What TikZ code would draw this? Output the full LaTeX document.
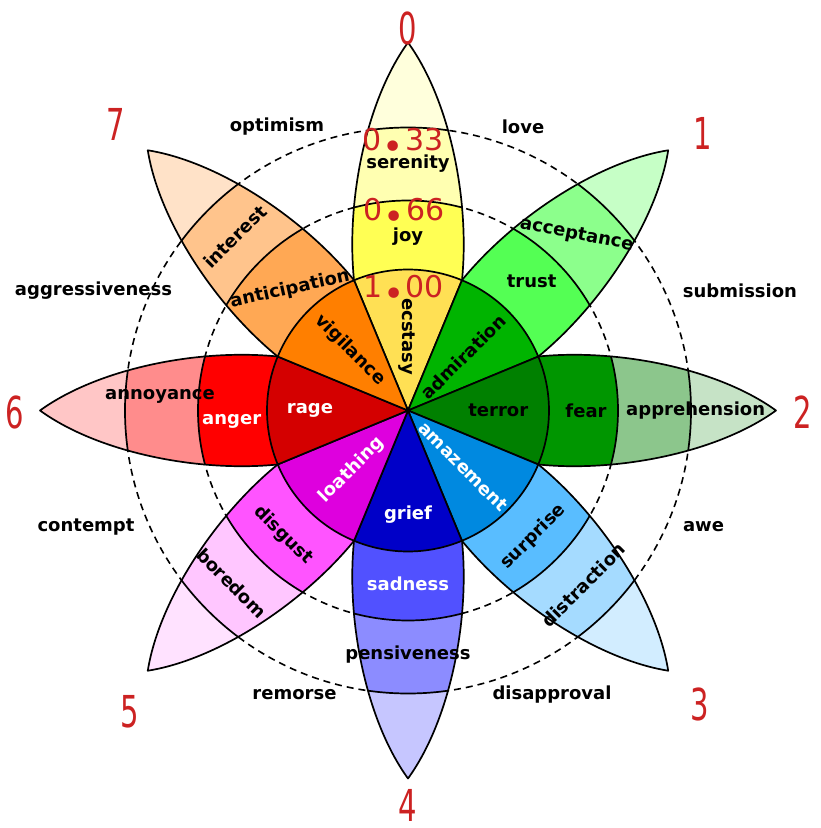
\documentclass[tikz,border=0pt]{standalone}
\usepackage{fontspec}
\setmainfont{DejaVu Sans}
\newfontfamily\handfont{DejaVu Sans}
\definecolor{ecstasyc}{HTML}{FFE054}
\definecolor{joyc}{HTML}{FFFF54}
\definecolor{serenityc}{HTML}{FFFFB1}
\definecolor{joytip}{HTML}{FFFFDC}
\definecolor{admirationc}{HTML}{00B400}
\definecolor{trustc}{HTML}{54FF54}
\definecolor{acceptancec}{HTML}{8CFF8C}
\definecolor{trusttip}{HTML}{C6FFC6}
\definecolor{terrorc}{HTML}{008000}
\definecolor{fearc}{HTML}{009600}
\definecolor{apprehensionc}{HTML}{8CC68C}
\definecolor{feartip}{HTML}{C6E3C6}
\definecolor{amazementc}{HTML}{0089E0}
\definecolor{surprisec}{HTML}{59BDFF}
\definecolor{distractionc}{HTML}{A5DBFF}
\definecolor{surprisetip}{HTML}{D2EDFF}
\definecolor{griefc}{HTML}{0000C8}
\definecolor{sadnessc}{HTML}{5151FF}
\definecolor{pensivenessc}{HTML}{8C8CFF}
\definecolor{sadnesstip}{HTML}{C6C6FF}
\definecolor{loathingc}{HTML}{DE00DE}
\definecolor{disgustc}{HTML}{FF54FF}
\definecolor{boredomc}{HTML}{FFC6FF}
\definecolor{disgusttip}{HTML}{FFE2FF}
\definecolor{ragec}{HTML}{D40000}
\definecolor{angerc}{HTML}{FF0000}
\definecolor{annoyancec}{HTML}{FF8C8C}
\definecolor{angertip}{HTML}{FFC6C6}
\definecolor{vigilancec}{HTML}{FF7F00}
\definecolor{anticipationc}{HTML}{FFA854}
\definecolor{interestc}{HTML}{FFC48C}
\definecolor{anticipationtip}{HTML}{FFE2C8}
\definecolor{handred}{HTML}{CC2222}
\newcommand\plpetal[4]{%
\begin{scope}[rotate=#1]
 \begin{scope}
  \clip (0,0) -- (130.3,54) .. controls (210,62) and (310,42) .. (368,0) .. controls (310,-42) and (210,-62) .. (130.3,-54) -- cycle;
  \fill[#4] (0,-70) rectangle (380,70);
  \fill[#3] (0,0) circle (283);
  \fill[#2] (0,0) circle (210);
  \draw[edgeline] (0,0) circle (283) (0,0) circle (210);
 \end{scope}
 \draw[edgeline] (130.3,54) .. controls (210,62) and (310,42) .. (368,0) .. controls (310,-42) and (210,-62) .. (130.3,-54);
\end{scope}}
\newcommand\plsector[2]{%
 \filldraw[fill=#2, edgeline] (0,0) -- ({#1-22.5}:141) arc[start angle={#1-22.5}, end angle={#1+22.5}, radius=141] -- cycle;}
\newcommand\hdot{\kern1pt\raisebox{-0.3em}{\fontsize{36}{36}\selectfont •}\kern1pt}
\begin{document}
\begin{tikzpicture}[x=1pt,y=1pt,line join=round,
  edgeline/.style={line width=1.7pt, draw=black},
  dashring/.style={line width=1.6pt, dash pattern=on 7pt off 5pt},
  lbl/.style={font=\bfseries\fontsize{18}{18}\selectfont, inner sep=0pt},
  wlbl/.style={lbl, text=white},
  hand/.style={text=handred, font=\handfont\fontsize{44}{44}\selectfont, xscale=0.66, inner sep=0pt},
  handdec/.style={text=handred, font=\handfont\fontsize{30}{30}\selectfont, inner sep=0pt}]
\useasboundingbox (-408,-417.5) rectangle (412,410.5);
\draw[dashring] (0,0) circle (210);
\draw[dashring] (0,0) circle (283);
\plpetal{90}{joyc}{serenityc}{joytip}
\plpetal{45}{trustc}{acceptancec}{trusttip}
\plpetal{0}{fearc}{apprehensionc}{feartip}
\plpetal{-45}{surprisec}{distractionc}{surprisetip}
\plpetal{-90}{sadnessc}{pensivenessc}{sadnesstip}
\plpetal{-135}{disgustc}{boredomc}{disgusttip}
\plpetal{180}{angerc}{annoyancec}{angertip}
\plpetal{135}{anticipationc}{interestc}{anticipationtip}
\plsector{90}{ecstasyc}
\plsector{45}{admirationc}
\plsector{0}{terrorc}
\plsector{-45}{amazementc}
\plsector{-90}{griefc}
\plsector{-135}{loathingc}
\plsector{180}{ragec}
\plsector{135}{vigilancec}
% inner labels
\node[lbl, rotate=-90] (ecstasy) at (-1.3,73.8) {ecstasy};
\node[lbl, rotate=-45] (vigilance) at (-58,60.5) {vigilance};
\node[lbl, rotate=45] (admiration) at (55.3,53.8) {admiration};
\node[lbl] (terror) at (90.3,0) {terror};
\node[wlbl, rotate=-45] (amazement) at (55.3,-56.2) {amazement};
\node[wlbl] (grief) at (0,-104.5) {grief};
\node[wlbl, rotate=45] (loathing) at (-56.3,-59.5) {loathing};
\node[wlbl] (rage) at (-98,0) {rage};
% middle labels
\node[lbl] (joy) at (0,173.8) {joy};
\node[lbl] (trust) at (123.7,128.8) {trust};
\node[lbl] (fear) at (178,0) {fear};
\node[lbl, rotate=45] (surprise) at (125.3,-126.2) {surprise};
\node[wlbl] (sadness) at (0,-172.8) {sadness};
\node[lbl, rotate=-45] (disgust) at (-124.7,-124.5) {disgust};
\node[wlbl] (anger) at (-176.3,-11.2) {anger};
\node[lbl, rotate=12.5] (anticipation) at (-118,121.2) {anticipation};
% outer labels
\node[lbl] (serenity) at (0,247.2) {serenity};
\node[lbl, rotate=-11] (acceptance) at (168.7,175.5) {acceptance};
\node[lbl] (apprehension) at (287.7,0) {apprehension};
\node[lbl, rotate=45] (distraction) at (175.3,-174.5) {distraction};
\node[lbl] (pensiveness) at (0,-244.5) {pensiveness};
\node[lbl, rotate=-45] (boredom) at (-176.3,-172.8) {boredom};
\node[lbl] (annoyance) at (-248,14.5) {annoyance};
\node[lbl, rotate=45] (interest) at (-173,173.8) {interest};
% dyads
\node[lbl] (optimism) at (-131,283.5) {optimism};
\node[lbl] (love) at (115,283.5) {love};
\node[lbl] (submission) at (332,119.5) {submission};
\node[lbl] (awe) at (295.5,-116.5) {awe};
\node[lbl] (disapproval) at (144,-284.5) {disapproval};
\node[lbl] (remorse) at (-113.5,-284.5) {remorse};
\node[lbl] (contempt) at (-322,-116.5) {contempt};
\node[lbl] (aggressiveness) at (-314.5,119.5) {aggressiveness};
% handwritten annotations
\node[hand] (n0) at (0,382.5) {0};
\node[hand] (n1) at (295,277.5) {1};
\node[hand] (n2) at (395,-1.5) {2};
\node[hand] (n3) at (292,-293.5) {3};
\node[hand] (n4) at (0,-394.5) {4};
\node[hand] (n5) at (-278,-301.5) {5};
\node[hand] (n6) at (-393,-1.5) {6};
\node[hand] (n7) at (-292,286.5) {7};
\node[handdec] (d33) at (-5,266.5) {0\hdot33};
\node[handdec] (d66) at (-4,196.5) {0\hdot66};
\node[handdec] (d100) at (-4.5,120) {1\hdot00};
\end{tikzpicture}
\end{document}
